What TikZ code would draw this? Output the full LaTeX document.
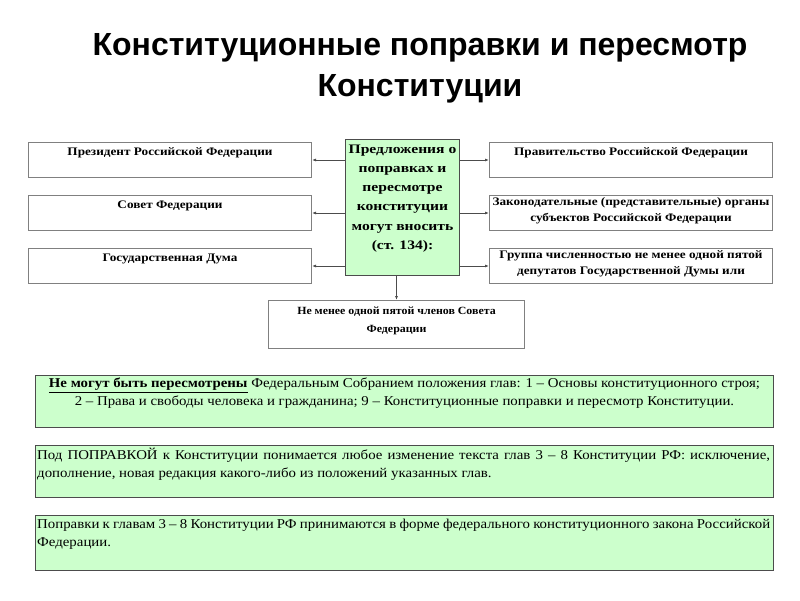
\documentclass[tikz,border=0pt]{standalone}
\usepackage{fontspec}
\setmainfont{Liberation Serif}
\newfontfamily\titlefont{Liberation Sans}
\newfontfamily\wideA[FakeStretch=1.15]{Liberation Serif}
\newfontfamily\wideB[FakeStretch=1.2]{Liberation Serif}
\newfontfamily\wideC[FakeStretch=1.08]{Liberation Serif}
\newfontfamily\wideD[FakeStretch=1.1]{Liberation Serif}
\usetikzlibrary{arrows.meta}
\definecolor{lgreen}{HTML}{CCFFCC}
\definecolor{bord}{HTML}{808080}
\tikzset{
  wbox/.style={draw=bord, line width=1pt, fill=white, anchor=north west, inner sep=0pt},
  gbox/.style={draw=black!70, line width=1pt, fill=lgreen, anchor=north west, inner sep=0pt},
  conn/.style={draw=black!70, line width=0.8pt, -{Latex[length=4pt,width=3pt]}},
  btxt/.style={font=\wideA\fontsize{11.5}{16}\selectfont\bfseries, align=center},
  gtxt/.style={font=\wideD\fontsize{13.5}{17.5}\selectfont},
}
\begin{document}
\begin{tikzpicture}[x=1pt,y=-1pt]
\useasboundingbox (0,0) rectangle (800,600);
% title
\node[font=\titlefont\fontsize{32}{41}\selectfont\bfseries, align=center] (title) at (420,68)
  {Конституционные поправки и пересмотр\\Конституции};
% left boxes
\node[wbox, minimum width=283pt, minimum height=35pt] (pres) at (28,142) {};
\node[btxt, anchor=north] at (pres.north) [yshift=-2pt] {Президент Российской Федерации};
\node[wbox, minimum width=283pt, minimum height=35pt] (sovet) at (28,195) {};
\node[btxt, anchor=north] at (sovet.north) [yshift=-2pt] {Совет Федерации};
\node[wbox, minimum width=283pt, minimum height=35pt] (duma) at (28,248) {};
\node[btxt, anchor=north] at (duma.north) [yshift=-2pt] {Государственная Дума};
% right boxes
\node[wbox, minimum width=283pt, minimum height=35pt] (prav) at (489,142) {};
\node[btxt, anchor=north] at (prav.north) [yshift=-2pt] {Правительство Российской Федерации};
\node[wbox, minimum width=283pt, minimum height=35pt] (zak) at (489,195) {};
\node[btxt, anchor=north, inner sep=0pt] at (zak.north) [yshift=-2pt] {Законодательные (представительные) органы\\субъектов Российской Федерации};
\node[wbox, minimum width=283pt, minimum height=35pt] (grp) at (489,248) {};
\node[btxt, anchor=north, inner sep=0pt] at (grp.north) [yshift=-2pt] {Группа численностью не менее одной пятой\\депутатов Государственной Думы  или};
% bottom box
\node[wbox, minimum width=256pt, minimum height=48pt] (chl) at (268,300) {};
\node[anchor=north, align=center, font=\wideC\fontsize{11}{18}\selectfont\bfseries] at (chl.north) [yshift=-3pt] {Не менее одной пятой членов Совета\\Федерации};
% center
\node[gbox, minimum width=114pt, minimum height=136pt] (ctr) at (345,139) {};
\node[anchor=north, align=center, font=\wideB\fontsize{13}{19.3}\selectfont\bfseries] at (ctr.north) [yshift=-2pt]
  {Предложения о\\поправках и\\пересмотре\\конституции\\могут вносить\\(ст. 134):};
% connectors
\draw[conn] (ctr.west |- pres.east) -- (pres.east);
\draw[conn] (ctr.west |- sovet.east) -- (sovet.east);
\draw[conn] (ctr.west |- duma.east) -- (duma.east);
\draw[conn] (ctr.east |- prav.west) -- (prav.west);
\draw[conn] (ctr.east |- zak.west) -- (zak.west);
\draw[conn] (ctr.east |- grp.west) -- (grp.west);
\draw[conn] (ctr.south -| chl.north) -- (chl.north);
% green boxes
\node[gbox, minimum width=738pt, minimum height=52pt] (g1) at (35,375) {};
\node[gtxt, anchor=north, align=center, inner sep=0pt] at (g1.north) [yshift=-3pt]
  {\textbf{\underline{Не могут быть пересмотрены}} Федеральным Собранием положения глав:  1 – Основы конституционного строя;\\
   2 – Права и свободы человека и гражданина;  9 – Конституционные поправки и пересмотр Конституции.};
\node[gbox, minimum width=738pt, minimum height=52pt] (g2) at (35,445) {};
\node[gtxt, anchor=north west, align=left, inner sep=0pt] at (g2.north west) [xshift=2pt,yshift=-3pt]
  {\makebox[733pt][s]{Под  ПОПРАВКОЙ  к Конституции понимается любое изменение текста глав 3 – 8  Конституции  РФ: исключение,}\\
   дополнение, новая редакция какого-либо из положений указанных глав.};
\node[gbox, minimum width=738pt, minimum height=55pt] (g3) at (35,515) {};
\node[gtxt, anchor=north west, align=left, inner sep=0pt] at (g3.north west) [xshift=2pt,yshift=-4pt]
  {\makebox[733pt][s]{Поправки к главам 3 – 8 Конституции РФ принимаются в форме федерального конституционного закона Российской}\\
   Федерации.};
\end{tikzpicture}
\end{document}
